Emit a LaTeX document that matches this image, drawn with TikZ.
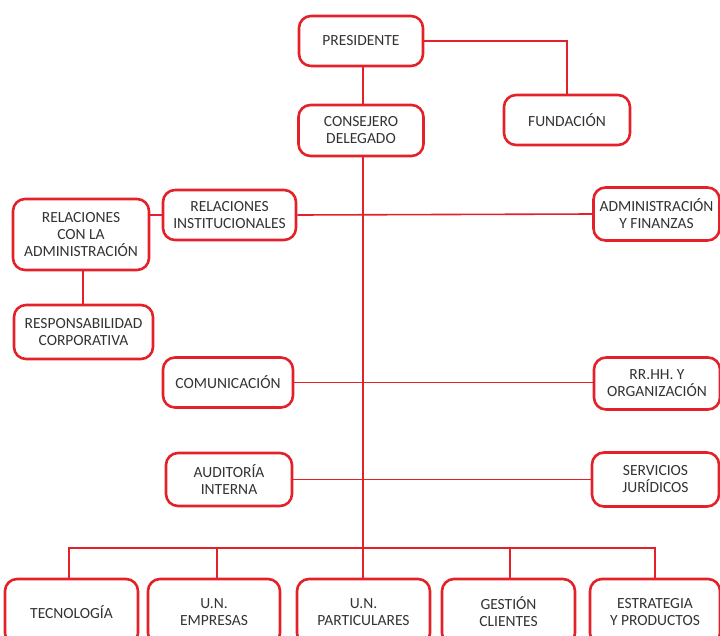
\documentclass[tikz,border=0pt]{standalone}
\usepackage{fontspec}
\setsansfont{Carlito}
\usepackage{tikz}
\usetikzlibrary{positioning,calc,backgrounds}
\usepackage{xcolor}
\definecolor{orgRed}{HTML}{E42129}
\definecolor{orgInk}{HTML}{333333}
\tikzset{
  unit/.style={draw=orgRed, fill=white, line width=2.6pt, rounded corners=12pt, minimum width=126pt, minimum height=51pt, inner sep=2pt, font=\sffamily\fontsize{15.5}{17}\selectfont, text=orgInk, align=center},
  conn/.style={draw=orgRed, line width=1.6pt},
}
\begin{document}
\begin{tikzpicture}[x=1pt,y=-1pt]
        \useasboundingbox (0,0) rectangle (720,635);
        % direccion
        \node[unit, minimum width=124pt, minimum height=50pt] (pres) at (361,41) {PRESIDENTE};
        \node[unit, minimum height=50pt] (fund) at (567,120) {FUNDACIÓN};
        \node[unit, minimum width=125pt] (cons) at (361,130.5) {CONSEJERO\\DELEGADO};
        % areas de apoyo
        \node[unit, minimum width=133pt, minimum height=50pt] (rinst) at (229.5,215) {RELACIONES\\INSTITUCIONALES};
        \node[unit, minimum width=136pt, minimum height=71pt] (radm) at (81,234.5) {RELACIONES\\CON LA\\ADMINISTRACIÓN};
        \node[unit, minimum width=139pt, minimum height=54pt] (resp) at (83.5,332) {RESPONSABILIDAD\\CORPORATIVA};
        \node[unit, minimum height=53pt] (admfin) at (656.5,214) {ADMINISTRACIÓN\\Y FINANZAS};
        \node[unit, minimum width=130pt, minimum height=50pt] (com) at (228,382.5) {COMUNICACIÓN};
        \node[unit, minimum height=52pt] (rrhh) at (657,383.5) {RR.HH. Y\\ORGANIZACIÓN};
        \node[unit, minimum height=53pt] (aud) at (229,479.5) {AUDITORÍA\\INTERNA};
        \node[unit, minimum width=127pt, minimum height=54pt] (serv) at (655.5,479.5) {SERVICIOS\\JURÍDICOS};
        % unidades de negocio
        \node[unit, minimum width=133pt, minimum height=66pt] (tec) at (71.5,612) {TECNOLOGÍA};
        \node[unit, minimum width=132pt, minimum height=66pt] (emp) at (214,612) {U.N.\\EMPRESAS};
        \node[unit, minimum width=133pt, minimum height=66pt] (part) at (363.5,612) {U.N.\\PARTICULARES};
        \node[unit, minimum width=133pt, minimum height=66pt] (gest) at (508.5,612) {GESTIÓN\\CLIENTES};
        \node[unit, minimum width=130pt, minimum height=66pt] (estr) at (655,612) {ESTRATEGIA\\Y PRODUCTOS};
        \coordinate (bus) at (363,548);
        % conexiones
        \begin{scope}[on background layer]
        \draw[conn] (pres.east) -| (fund.north);
        \draw[conn] (pres.south -| bus) -- (cons.north -| bus);
        \draw[conn] (cons.south -| bus) -- (bus);
        \draw[conn] (rinst.east) -- (admfin.west);
        \draw[conn] (rinst.west) -- (rinst.west -| radm.east);
        \draw[conn] (radm.south -| 83,0) -- (resp.north -| 83,0);
        \draw[conn] (com.east) -- (com.east -| rrhh.west);
        \draw[conn] (aud.east) -- (serv.west);
        \draw[conn] (tec.north -| 69,0) |- (bus) -| (estr.north);
        \draw[conn] (emp.north -| 217,0) -- (bus -| 217,0);
        \draw[conn] (part.north -| bus) -- (bus);
        \draw[conn] (gest.north -| 510,0) -- (bus -| 510,0);
        \end{scope}
    \end{tikzpicture}
\end{document}
